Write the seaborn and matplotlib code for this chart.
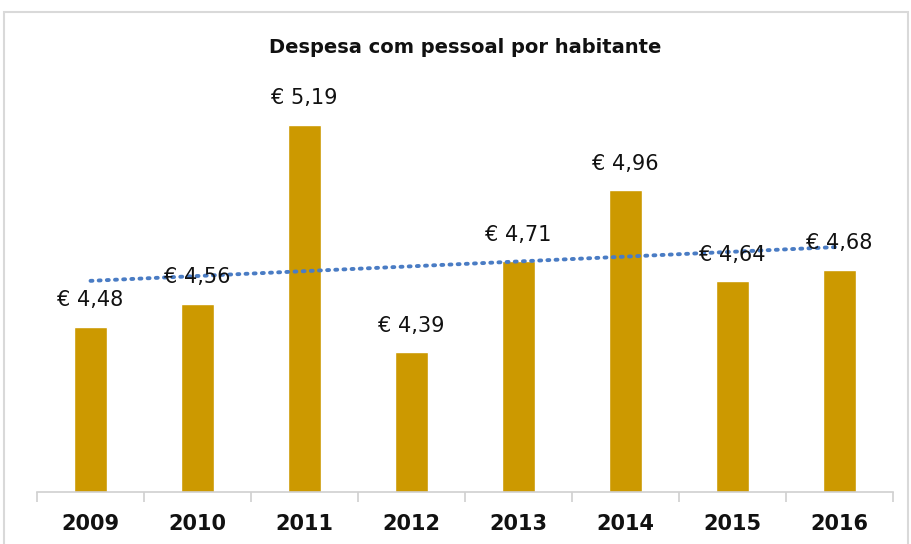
import numpy as np
import matplotlib
matplotlib.use("Agg")
import matplotlib.pyplot as plt
import seaborn as sns
from matplotlib.patches import Rectangle

# data
anos = ["2009", "2010", "2011", "2012", "2013", "2014", "2015", "2016"]
despesa = [4.48, 4.56, 5.19, 4.39, 4.71, 4.96, 4.64, 4.68]
rotulos = ["€ 4,48", "€ 4,56", "€ 5,19", "€ 4,39", "€ 4,71", "€ 4,96", "€ 4,64", "€ 4,68"]

sns.set_theme(style="white")
plt.rcParams["font.family"] = ["DejaVu Sans"]

fig = plt.figure(figsize=(9.12, 5.44), dpi=100)
ax = fig.add_axes([0.0406, 0.0956, 0.9386, 0.785])

sns.barplot(x=anos, y=despesa, color="#CC9900", width=0.31, saturation=1, ax=ax)

# linear trend line
xs = np.arange(len(anos))
coef = np.polyfit(xs, despesa, 1)
ax.plot(xs, np.polyval(coef, xs), linestyle=(0, (0.5, 1.6)), color="#4A7CC4",
        linewidth=2.8, dash_capstyle="round")

for i, (v, t) in enumerate(zip(despesa, rotulos)):
    ax.annotate(t, (i, v), xytext=(0, 12), textcoords="offset points",
                ha="center", va="bottom", fontsize=15, color="#111111")

ax.set_ylim(3.9, 5.4)
ax.set_xlim(-0.5, len(anos) - 0.5)
ax.set_yticks([])
for s in ["left", "right", "top"]:
    ax.spines[s].set_visible(False)
ax.spines["bottom"].set_color("#D0D0D0")
ax.spines["bottom"].set_linewidth(1.2)

ax.set_xticks(xs)
ax.set_xticklabels(anos, fontsize=15, fontweight="bold", color="#111111")
ax.tick_params(axis="x", which="major", length=0, pad=16)
ax.set_xticks(np.arange(-0.5, len(anos)), minor=True)
ax.tick_params(axis="x", which="minor", length=7, width=1.2, color="#D0D0D0", bottom=True)
ax.set_xlabel("")
ax.set_ylabel("")

fig.text(0.51, 0.913, "Despesa com pessoal por habitante", ha="center", va="center",
         fontsize=14, fontweight="bold", color="#111111")

# chart frame
fig.patches.append(Rectangle((4 / 912, -0.02), 904 / 912, 1 - 12 / 544 + 0.02,
                             transform=fig.transFigure, fill=False,
                             edgecolor="#D9D9D9", linewidth=1.5))

fig.savefig("out.png", dpi=100)
